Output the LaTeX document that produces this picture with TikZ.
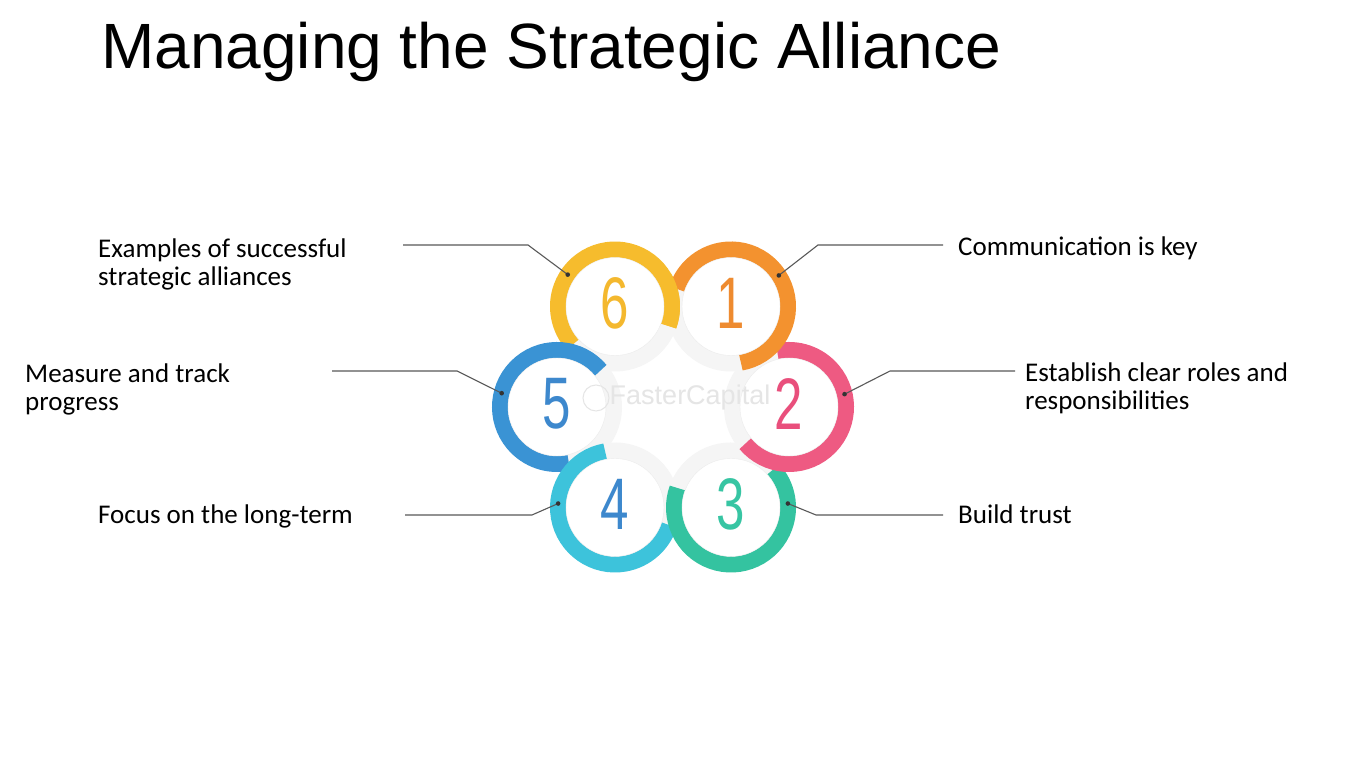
\documentclass[tikz,border=0pt]{standalone}
\usepackage{fontspec}
\setmainfont{Carlito}
\newfontfamily\titlefont{Liberation Sans}
\definecolor{ringyel}{HTML}{F6BC2D}
\definecolor{ringorg}{HTML}{F3922F}
\definecolor{ringpnk}{HTML}{EE5A82}
\definecolor{ringgrn}{HTML}{34C3A0}
\definecolor{ringcyn}{HTML}{3DC3DB}
\definecolor{ringblu}{HTML}{3A93D4}
\definecolor{digyel}{HTML}{F4B82E}
\definecolor{digorg}{HTML}{EE8B30}
\definecolor{digpnk}{HTML}{E94F7C}
\definecolor{diggrn}{HTML}{37C5A3}
\definecolor{digblu}{HTML}{3D88CD}
\newcommand\narrowdigit[1]{\scalebox{0.7}[1]{#1}}

\begin{document}
\begin{tikzpicture}[x=1pt,y=1pt,
    ringnode/.style={circle, minimum size=114pt, inner sep=0pt, outer sep=0pt},
    disknode/.style={circle, fill=white, draw=black!8, minimum size=98pt, inner sep=0pt},
    digitnode/.style={font=\titlefont\fontsize{73}{73}\selectfont, inner sep=0pt},
    labelnode/.style={font=\fontsize{27}{28}\selectfont, align=left, anchor=base west, inner sep=0pt},
    leader/.style={draw=black!65, line width=1.1pt},
    colarc/.style={line width=16pt},
    grayarc/.style={line width=16pt, draw=black!4}
    ]
    \fill[white] (0,0) rectangle (1350,759);
    \useasboundingbox (0,0) rectangle (1350,759);

    \node[font=\titlefont\fontsize{64}{64}\selectfont, anchor=base west, inner sep=0pt] (title) at (101,690) {Managing the Strategic Alliance};

    % six rings round the centre
    \node [ringnode] (r1) at (731,452.5) {};
    \node [ringnode] (r2) at (789,352) {};
    \node [ringnode] (r3) at (731,251.5) {};
    \node [ringnode] (r4) at (615,251.5) {};
    \node [ringnode] (r5) at (557,352) {};
    \node [ringnode] (r6) at (615,452.5) {};

    \draw [grayarc] (r1.160) arc[start angle=160, end angle=280, radius=57pt];
    \draw [grayarc] (r2.100) arc[start angle=100, end angle=220, radius=57pt];
    \draw [grayarc] (r3.40) arc[start angle=40, end angle=160, radius=57pt];
    \draw [grayarc] (r4.-20) arc[start angle=-20, end angle=100, radius=57pt];
    \draw [grayarc] (r5.280) arc[start angle=280, end angle=400, radius=57pt];
    \draw [grayarc] (r6.220) arc[start angle=220, end angle=340, radius=57pt];

    \draw [colarc, ringyel] (r6.-20) arc[start angle=-20, end angle=222, radius=57pt];
    \draw [colarc, ringblu] (r5.40) arc[start angle=40, end angle=282, radius=57pt];
    \draw [colarc, ringcyn] (r4.-260) arc[start angle=-260, end angle=-18, radius=57pt];
    \draw [colarc, ringgrn] (r3.-200) arc[start angle=-200, end angle=42, radius=57pt];
    \draw [colarc, ringpnk] (r2.-140) arc[start angle=-140, end angle=102, radius=57pt];
    \draw [colarc, ringorg] (r1.-80) arc[start angle=-80, end angle=162, radius=57pt];
    \draw [colarc, ringyel] (r6.-20) arc[start angle=-20, end angle=30, radius=57pt];

    \node [disknode] (d1) at (r1) {};
    \node [disknode] (d2) at (r2) {};
    \node [disknode] (d3) at (r3) {};
    \node [disknode] (d4) at (r4) {};
    \node [disknode] (d5) at (r5) {};
    \node [disknode] (d6) at (r6) {};

    \node [font=\titlefont\fontsize{27}{27}\selectfont, text=black!10] (mark) at (690,361) {FasterCapital};
    \node [circle, draw=black!10, line width=1pt, minimum size=26pt] (logo) at (596,361) {};

    \node [digitnode, text=digorg] (n1) at ([yshift=3pt]r1.center) {\narrowdigit{1}};
    \node [digitnode, text=digpnk] (n2) at ([yshift=3pt]r2.center) {\narrowdigit{2}};
    \node [digitnode, text=diggrn] (n3) at ([yshift=3pt]r3.center) {\narrowdigit{3}};
    \node [digitnode, text=digblu] (n4) at ([yshift=3pt]r4.center) {\narrowdigit{4}};
    \node [digitnode, text=digblu] (n5) at ([yshift=3pt]r5.center) {\narrowdigit{5}};
    \node [digitnode, text=digyel] (n6) at ([yshift=3pt]r6.center) {\narrowdigit{6}};

    % labels
    \node [labelnode] (l1) at (958,503) {Communication is key};
    \node [labelnode] (l2) at (1025,349) {Establish clear roles and\\responsibilities};
    \node [labelnode] (l3) at (958,235) {Build trust};
    \node [labelnode] (l4) at (98,235) {Focus on the long-term};
    \node [labelnode] (l5) at (25,348) {Measure and track\\progress};
    \node [labelnode] (l6) at (98,473) {Examples of successful\\strategic alliances};

    % leader lines
    \coordinate (e1) at (943,514);  \coordinate (k1) at (818,514);
    \coordinate (e2) at (1015,388); \coordinate (k2) at (890,388);
    \coordinate (e3) at (943,244);  \coordinate (k3) at (816,244);
    \coordinate (e4) at (405,244);  \coordinate (k4) at (532,244);
    \coordinate (e5) at (332,388);  \coordinate (k5) at (457,388);
    \coordinate (e6) at (403,514);  \coordinate (k6) at (528,514);

    \draw [leader] (e1) -- (k1) -- (r1.33);
    \draw [leader] (e2) -- (k2) -- (r2.13);
    \draw [leader] (e3) -- (k3) -- (r3.4);
    \draw [leader] (e4) -- (k4) -- (r4.176);
    \draw [leader] (e5) -- (k5) -- (r5.166);
    \draw [leader] (e6) -- (k6) -- (r6.146);

    \fill [black!80] (r1.33) circle (2.3pt);
    \fill [black!80] (r2.13) circle (2.3pt);
    \fill [black!80] (r3.4) circle (2.3pt);
    \fill [black!80] (r4.176) circle (2.3pt);
    \fill [black!80] (r5.166) circle (2.3pt);
    \fill [black!80] (r6.146) circle (2.3pt);
\end{tikzpicture}
\end{document}
